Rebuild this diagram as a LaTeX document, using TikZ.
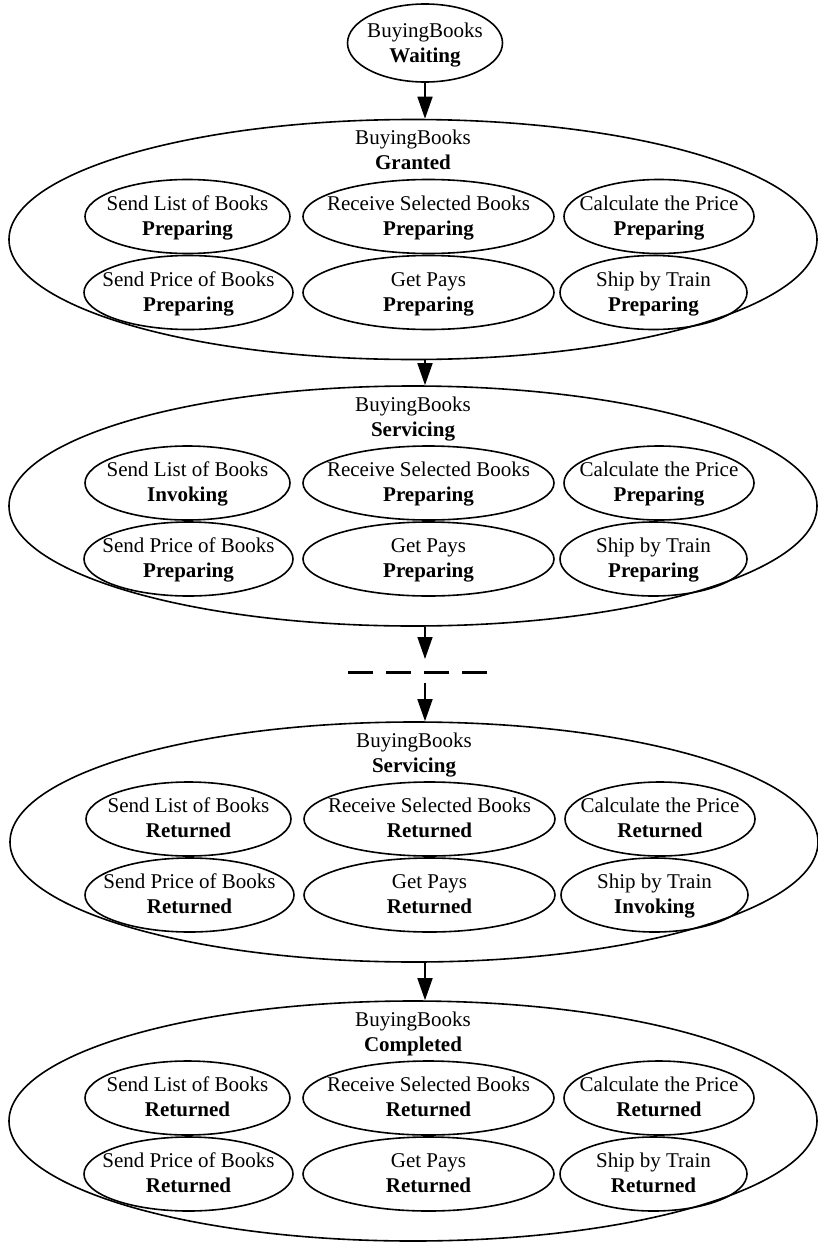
\documentclass[tikz,border=0pt]{standalone}
\usepackage{fontspec}
\setmainfont{Liberation Serif}
\usetikzlibrary{shapes.geometric,arrows.meta}
\tikzset{
  lbl/.style={font=\fontsize{21}{25}\selectfont, align=center, inner sep=0pt},
  stateell/.style={draw, ellipse, line width=1.6pt, inner sep=0pt},
  outerell/.style={stateell, minimum width=808pt, minimum height=240pt},
  arr/.style={line width=1.6pt, -{Triangle[length=22pt,width=15pt]}},
  dashline/.style={line width=3pt, dash pattern=on 25pt off 13pt},
}
\newcommand\bbtask[5]{%
  \node[stateell, minimum width=#3pt, minimum height=74pt] (#1) at (#2) {};
  \node[lbl] (#1l) at ([yshift=-1pt]#1.center) {\strut #4\\\strut\textbf{#5}};}
\newcommand\bbstate[9]{%
  \begin{scope}[shift={(#2)}]
    \node[outerell] (#1) at (0,0) {};
    \node[lbl] (#1t) at (0,-87.5) {\strut BuyingBooks\\\strut\textbf{#3}};
    \bbtask{#1a}{-225.5,-23}{205}{Send List of Books}{#4}
    \bbtask{#1b}{15.5,-23}{251}{Receive Selected Books}{#5}
    \bbtask{#1c}{246,-23}{190}{Calculate the Price}{#6}
    \bbtask{#1d}{-224.5,53}{209}{Send Price of Books}{#7}
    \bbtask{#1e}{15.5,53}{251}{Get Pays}{#8}
    \bbtask{#1f}{240.5,53}{187}{Ship by Train}{#9}
  \end{scope}}
\begin{document}
\begin{tikzpicture}[x=1pt,y=-1pt]
  \useasboundingbox (0,0) rectangle (818,1242);
  \node[stateell, minimum width=155pt, minimum height=78pt] (w) at (425,43) {};
  \node[lbl] (wl) at ([yshift=-2pt]w.center) {\strut BuyingBooks\\\strut\textbf{Waiting}};
  \bbstate{o1}{413,239.5}{Granted}{Preparing}{Preparing}{Preparing}{Preparing}{Preparing}{Preparing}
  \bbstate{o2}{413,506}{Servicing}{Invoking}{Preparing}{Preparing}{Preparing}{Preparing}{Preparing}
  \bbstate{o3}{414,842}{Servicing}{Returned}{Returned}{Returned}{Returned}{Returned}{Invoking}
  \bbstate{o4}{413,1121}{Completed}{Returned}{Returned}{Returned}{Returned}{Returned}{Returned}
  \coordinate (dl) at (348,672);
  \coordinate (dr) at (488,672);
  \coordinate (dtop) at (425,659);
  \coordinate (dbot) at (425,683);
  \draw[dashline] (dl) -- (dr);
  \draw[arr] (w.south) -- (w.south |- o1.north);
  \draw[arr] (w.south |- o1.south) -- (w.south |- o2.north);
  \draw[arr] (w.south |- o2.south) -- (dtop);
  \draw[arr] (dbot) -- (w.south |- o3.north);
  \draw[arr] (w.south |- o3.south) -- (w.south |- o4.north);
\end{tikzpicture}
\end{document}
